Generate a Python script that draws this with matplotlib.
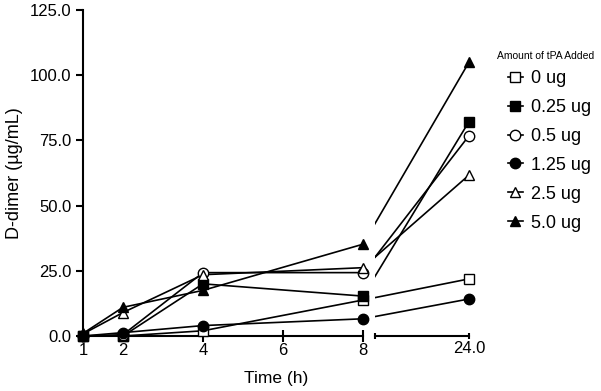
import matplotlib
matplotlib.use("Agg")
import matplotlib.pyplot as plt
from matplotlib.lines import Line2D

plt.rcParams["font.family"] = ["Liberation Sans", "DejaVu Sans"]

# Data
hours = [1, 2, 4, 8, 24]
series_labels = ["0 ug", "0.25 ug", "0.5 ug", "1.25 ug", "2.5 ug", "5.0 ug"]
dimer_0 = [0.0, 0.0, 2.0, 13.8, 21.9]
dimer_025 = [0.0, 0.0, 20.0, 15.3, 82.2]
dimer_05 = [0.0, 0.5, 24.3, 24.3, 76.8]
dimer_125 = [0.0, 1.3, 4.0, 6.6, 14.2]
dimer_25 = [0.8, 9.0, 23.5, 26.2, 61.7]
dimer_50 = [1.0, 11.0, 17.5, 35.2, 105.0]
y_ticks = [0, 25, 50, 75, 100, 125]

series = [dimer_0, dimer_025, dimer_05, dimer_125, dimer_25, dimer_50]
markers = ["s", "s", "o", "o", "^", "^"]
filled = [False, True, False, True, False, True]

# broken x axis: 1..8 on the left part, 24 drawn after a short gap
GAP_START = 8.3
POS_24 = 10.65


def xpos(h):
    return h if h <= 8 else POS_24


fig = plt.figure(figsize=(6.01, 3.91), dpi=100)
W, H = 601, 391
ax1 = fig.add_axes([83 / W, 55 / H, 280 / W, 326 / H])
ax2 = fig.add_axes([375 / W, 55 / H, 94 / W, 326 / H])

xs = [xpos(h) for h in hours]
handles = []
for vals, m, f, lab in zip(series, markers, filled, series_labels):
    face = "black" if f else "white"
    for ax in (ax1, ax2):
        ax.plot(xs, vals, color="black", lw=1.2, zorder=2, clip_on=True)
    ax1.plot(xs[:4], vals[:4], ls="none", marker=m, ms=7.5, mfc=face,
             mec="black", mew=1.0, zorder=3, clip_on=False)
    ax2.plot(xs[4:], vals[4:], ls="none", marker=m, ms=7.5, mfc=face,
             mec="black", mew=1.0, zorder=3, clip_on=False)
    handles.append(Line2D([], [], color="black", lw=1.2, marker=m, ms=7.5,
                          mfc=face, mec="black", mew=1.0, label=lab))

for ax in (ax1, ax2):
    ax.set_ylim(0, 125)
    ax.spines["top"].set_visible(False)
    ax.spines["right"].set_visible(False)
    ax.spines["bottom"].set_linewidth(1.5)
    ax.spines["left"].set_linewidth(1.5)

ax1.set_xlim(1, 8)
ax1.set_xticks([1, 2, 4, 6, 8])
ax1.set_xticklabels(["1", "2", "4", "6", "8"])
ax1.set_yticks(y_ticks)
ax1.set_yticklabels([f"{v:.1f}" for v in y_ticks])
ax1.tick_params(axis="both", labelsize=12, width=1.5, length=5)
ax1.tick_params(axis="x", direction="inout", length=8, pad=1)
ax1.set_ylabel("D-dimer (µg/mL)", fontsize=13, labelpad=5)

ax2.set_xlim(GAP_START, POS_24)
ax2.set_xticks([GAP_START, POS_24])
ax2.set_xticklabels(["", "24.0"])
ax2.spines["left"].set_visible(False)
ax2.set_yticks([])
ax2.tick_params(axis="x", labelsize=12, width=1.5, length=5,
                direction="inout", pad=1)
ax2.patch.set_alpha(0)

fig.text(276 / W, 1 - 378 / H, "Time (h)", ha="center", va="center",
         fontsize=12.5)

# legend title sits a little left of the entries
fig.text(497 / W, 1 - 56 / H, "Amount of tPA Added", ha="left",
         va="center", fontsize=7.5)
fig.legend(handles=handles, loc="upper left",
           bbox_to_anchor=(508 / W, 1 - 70 / H), frameon=False,
           fontsize=13, handlelength=0.83, handletextpad=0.45,
           labelspacing=0.66, borderpad=0, borderaxespad=0)

fig.savefig("out.png", dpi=100)
